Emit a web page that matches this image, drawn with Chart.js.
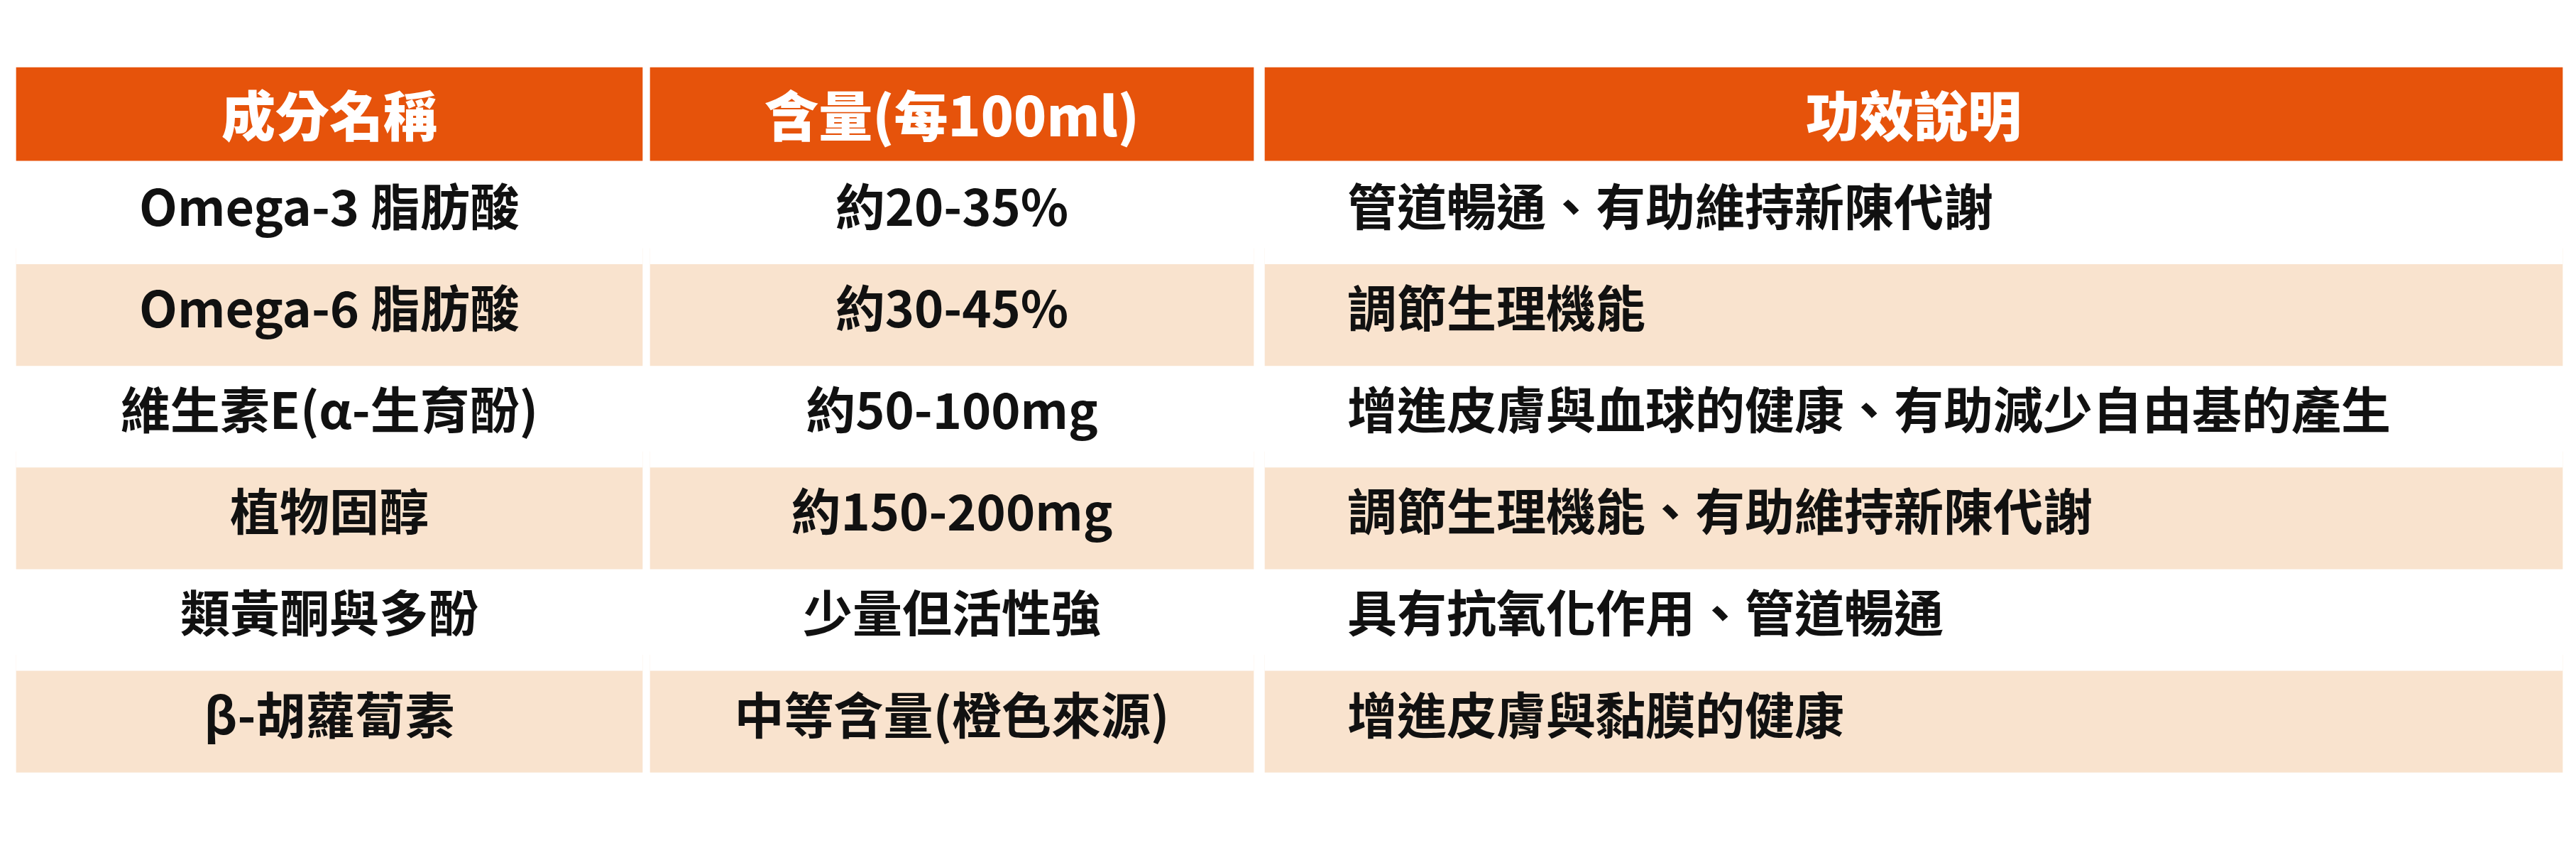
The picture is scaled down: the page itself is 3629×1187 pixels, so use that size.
<!DOCTYPE html>
<html><head><meta charset="utf-8">
<script src="https://cdn.jsdelivr.net/npm/chart.js@4.4.1/dist/chart.umd.min.js"></script>
<style>html,body{margin:0;padding:0;background:#fff;}canvas{display:block;}</style>
</head><body>
<canvas id="c" width="3629" height="1187"></canvas>
<script>
const headers = ["成分名稱", "含量(每100ml)", "功效說明"];
const names = ["Omega-3 脂肪酸","Omega-6 脂肪酸","維生素E(α-生育酚)","植物固醇","類黃酮與多酚","β-胡蘿蔔素"];
const amounts = ["約20-35%","約30-45%","約50-100mg","約150-200mg","少量但活性強","中等含量(橙色來源)"];
const effects = ["管道暢通、有助維持新陳代謝","調節生理機能","增進皮膚與血球的健康、有助減少自由基的產生","調節生理機能、有助維持新陳代謝","具有抗氧化作用、管道暢通","增進皮膚與黏膜的健康"];

const colX = [[23,905],[916,1766],[1782,3610]];
const headBand = [23,154];
const rowBands = names.map((_, i) => [156 + i*167, 321 + i*167]);
const HEAD = "#E6530B", PEACH = "#F9E3CE", WHITE = "#FFFFFF";

const datasets = [];
[headBand, ...rowBands].forEach((b, r) => {
  const color = r === 0 ? HEAD : (r % 2 === 0 ? PEACH : WHITE);
  datasets.push({
    data: colX.map(c => ({ y: (b[0]+b[1])/2, x: [c[0], c[1]] })),
    backgroundColor: color, borderWidth: 0, borderSkipped: false,
    grouped: false,
    barThickness: b[1]-b[0]
  });
});

const textPlugin = {
  id: 'tableText',
  afterDatasetsDraw(chart) {
    const ctx = chart.ctx, xs = chart.scales.x, ys = chart.scales.y;
    ctx.save();
    ctx.textBaseline = 'middle';
    const font = "'Noto Sans CJK TC','Noto Sans',sans-serif";
    const cy = b => ys.getPixelForValue((b[0]+b[1])/2);
    ctx.fillStyle = '#fff'; ctx.font = "900 76px " + font; ctx.textAlign = 'center';
    headers.forEach((h, i) => ctx.fillText(h, xs.getPixelForValue((colX[i][0]+colX[i][1])/2), cy(headBand)+2));
    ctx.fillStyle = '#111'; ctx.font = "bold 70px " + font;
    rowBands.forEach((b, r) => {
      const y = cy(b) + 2;
      ctx.textAlign = 'center';
      ctx.fillText(names[r], xs.getPixelForValue((colX[0][0]+colX[0][1])/2), y);
      ctx.fillText(amounts[r], xs.getPixelForValue((colX[1][0]+colX[1][1])/2), y);
      ctx.textAlign = 'left';
      ctx.fillText(effects[r], xs.getPixelForValue(1898), y);
    });
    ctx.restore();
  }
};

new Chart(document.getElementById('c'), {
  type: 'bar',
  data: { datasets },
  options: {
    indexAxis: 'y', responsive: false, animation: false, devicePixelRatio: 1,
    layout: { padding: 0 },
    plugins: { legend: { display: false }, tooltip: { enabled: false } },
    scales: {
      x: { type: 'linear', min: 0, max: 3629, display: false },
      y: { type: 'linear', min: 0, max: 1187, reverse: true, display: false }
    }
  },
  plugins: [textPlugin]
});
</script>
</body></html>
